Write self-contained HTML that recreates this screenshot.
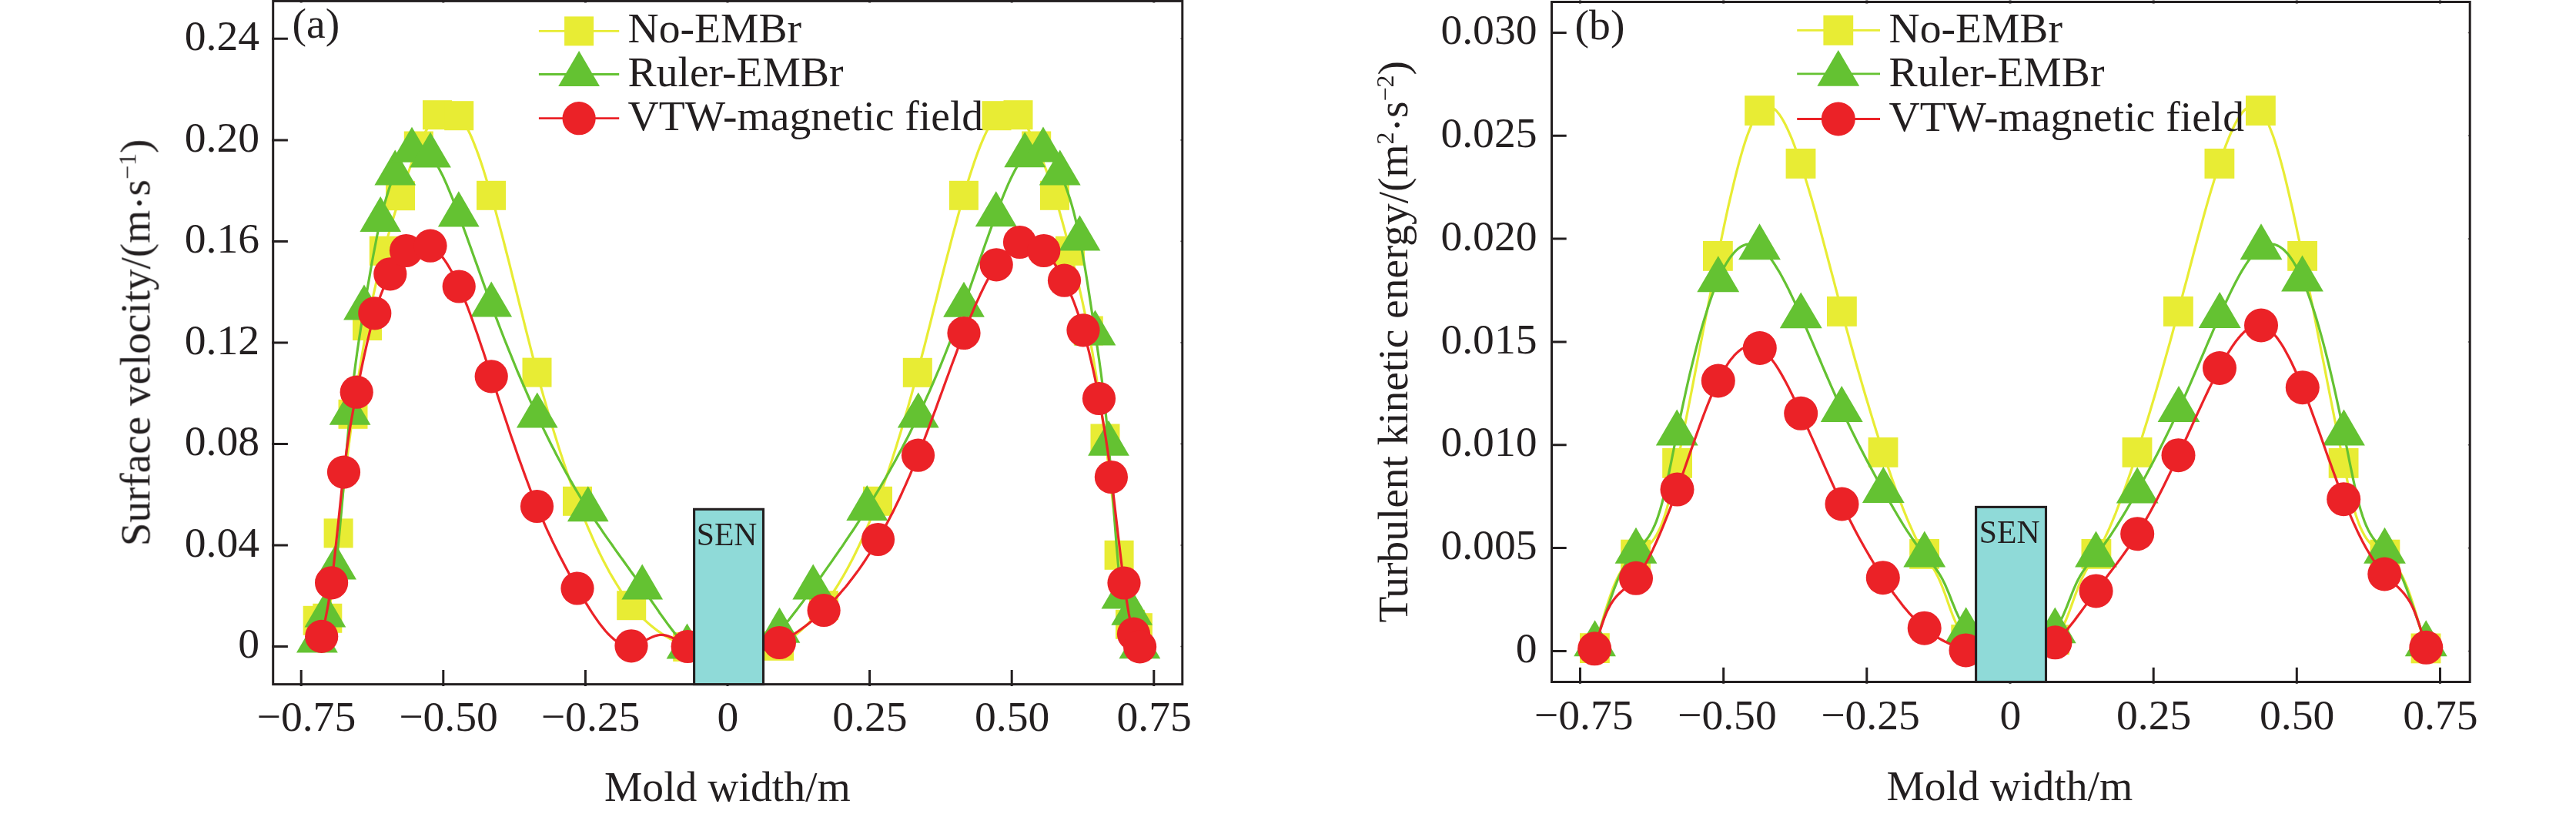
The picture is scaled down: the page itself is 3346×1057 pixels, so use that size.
<!DOCTYPE html>
<html lang="en"><head><meta charset="utf-8"><title>Surface velocity and turbulent kinetic energy</title>
<style>
html,body{margin:0;padding:0;background:#fff;}
body{width:3346px;height:1057px;overflow:hidden;font-family:"Liberation Serif",serif;}
svg{display:block;}
</style></head>
<body>
<svg width="3346" height="1057" viewBox="0 0 3346 1057" font-family="'Liberation Serif', serif" fill="#231f20">
<defs><filter id="nf" x="0" y="0" width="100%" height="100%" filterUnits="userSpaceOnUse" color-interpolation-filters="sRGB"><feOffset dx="0" dy="0"/></filter></defs>
<rect width="3346" height="1057" fill="#fff"/>
<g filter="url(#nf)">
<g id="chartA">
<path d="M412.7 805.8 L414.8 809.0 L416.9 811.6 L419.0 812.9 L421.1 812.3 L423.2 809.1 L425.3 802.8 L427.7 791.3 L430.1 775.8 L432.5 757.2 L434.8 736.5 L437.2 714.6 L439.6 692.4 L442.0 670.9 L444.3 650.0 L446.7 629.8 L449.1 610.1 L451.4 591.1 L453.8 572.7 L456.1 554.9 L458.5 537.8 L460.8 521.5 L463.1 505.8 L465.4 490.7 L467.8 476.1 L470.1 462.1 L472.4 448.5 L474.7 435.5 L477.0 423.0 L479.4 410.4 L481.8 398.4 L484.2 386.8 L486.7 375.6 L489.1 364.9 L491.5 354.6 L493.9 344.6 L496.3 335.0 L498.8 325.8 L501.1 317.0 L503.5 308.4 L505.8 300.1 L508.2 292.0 L510.6 284.2 L512.9 276.5 L515.3 268.9 L517.6 261.5 L520.0 254.2 L522.6 246.3 L525.3 238.4 L527.9 230.7 L530.6 223.3 L533.2 216.0 L535.8 209.0 L538.5 202.2 L541.1 195.7 L543.8 189.5 L546.2 184.1 L548.6 179.0 L551.0 174.1 L553.5 169.6 L555.9 165.3 L558.3 161.4 L560.7 157.9 L563.1 154.6 L565.6 151.8 L568.0 149.2 L570.6 147.0 L573.1 145.2 L575.7 143.8 L578.3 142.9 L580.8 142.5 L583.4 142.5 L586.0 143.0 L588.5 144.1 L591.1 145.6 L593.7 147.7 L596.2 150.2 L599.0 153.7 L601.8 157.7 L604.6 162.3 L607.4 167.5 L610.2 173.2 L613.0 179.5 L615.7 186.2 L618.5 193.3 L621.3 200.9 L624.1 208.9 L626.9 217.2 L629.6 225.9 L632.4 234.9 L635.2 244.2 L638.0 253.8 L640.8 263.7 L643.7 273.9 L646.5 284.3 L649.3 294.9 L652.2 305.6 L655.0 316.5 L657.8 327.5 L660.7 338.6 L663.5 349.8 L666.3 361.1 L669.2 372.4 L672.0 383.7 L674.8 395.0 L677.7 406.4 L680.5 417.7 L683.3 428.9 L686.2 440.1 L689.0 451.1 L691.8 462.1 L694.7 472.9 L697.5 483.6 L700.3 493.9 L703.0 503.9 L705.8 513.9 L708.6 523.6 L711.3 533.2 L714.1 542.7 L716.8 551.9 L719.6 561.1 L722.4 570.0 L725.1 578.8 L727.9 587.4 L730.7 595.9 L733.4 604.2 L736.2 612.4 L738.9 620.4 L741.7 628.2 L744.5 635.9 L747.2 643.4 L750.0 650.8 L752.8 658.1 L755.6 665.2 L758.4 672.2 L761.2 679.0 L764.0 685.7 L766.9 692.2 L769.7 698.6 L772.5 704.8 L775.3 710.8 L778.1 716.7 L780.9 722.4 L783.7 727.9 L786.5 733.3 L789.3 738.6 L792.1 743.7 L795.0 748.6 L797.8 753.4 L800.6 758.0 L803.4 762.5 L806.2 766.9 L809.0 771.0 L811.8 775.1 L814.6 778.9 L817.4 782.7 L820.2 786.2 L823.1 789.7 L825.9 793.0 L828.7 796.1 L831.5 799.1 L834.3 802.0 L837.1 804.8 L839.9 807.4 L842.7 809.9 L845.5 812.3 L848.3 814.6 L851.1 816.8 L853.9 818.9 L856.8 820.9 L859.6 822.8 L862.4 824.6 L865.2 826.4 L868.0 828.0 L870.8 829.6 L873.6 831.1 L876.4 832.5 L879.2 833.9 L882.0 835.2 L884.8 836.5 L887.6 837.7 L890.4 838.9 L893.2 840.0 L896.1 841.1 L899.0 842.2 L901.9 843.2 L904.8 844.2 L907.7 845.2 L910.6 846.1 L913.5 847.0 L916.4 847.8 L919.3 848.5 L922.2 849.3 L925.1 849.9 L928.0 850.5 L930.9 851.1 L933.8 851.6 L936.7 852.0 L939.6 852.4 L942.5 852.7 L945.4 852.9 L948.3 853.1 L951.2 853.3 L954.1 853.3 L957.0 853.3 L959.9 853.2 L962.8 853.1 L965.7 852.9 L968.6 852.6 L971.5 852.2 L974.3 851.8 L977.2 851.3 L980.1 850.7 L983.0 850.0 L985.9 849.3 L988.8 848.5 L991.7 847.6 L994.6 846.6 L997.5 845.5 L1000.4 844.3 L1003.3 843.1 L1006.2 841.7 L1009.1 840.3 L1012.0 838.8 L1014.8 837.2 L1017.5 835.6 L1020.3 833.9 L1023.0 832.1 L1025.8 830.2 L1028.6 828.2 L1031.3 826.1 L1034.1 823.9 L1036.9 821.6 L1039.6 819.3 L1042.4 816.8 L1045.1 814.2 L1047.9 811.5 L1050.7 808.8 L1053.4 805.9 L1056.2 802.9 L1059.0 799.8 L1061.7 796.6 L1064.5 793.2 L1067.2 789.8 L1070.0 786.2 L1072.8 782.5 L1075.6 778.7 L1078.4 774.7 L1081.2 770.6 L1084.0 766.4 L1086.8 762.1 L1089.6 757.6 L1092.4 752.9 L1095.2 748.2 L1098.0 743.3 L1100.8 738.2 L1103.6 733.0 L1106.4 727.7 L1109.2 722.2 L1112.0 716.5 L1114.8 710.7 L1117.6 704.7 L1120.4 698.5 L1123.2 692.2 L1126.0 685.8 L1128.8 679.1 L1131.6 672.3 L1134.4 665.3 L1137.2 658.1 L1140.0 650.8 L1142.7 643.4 L1145.4 635.9 L1148.2 628.2 L1150.9 620.4 L1153.6 612.4 L1156.3 604.2 L1159.1 595.8 L1161.8 587.3 L1164.5 578.7 L1167.2 569.9 L1170.0 560.9 L1172.7 551.8 L1175.4 542.5 L1178.1 533.1 L1180.9 523.5 L1183.6 513.8 L1186.3 503.9 L1189.0 493.9 L1191.8 483.8 L1194.5 473.4 L1197.2 463.0 L1200.0 452.4 L1202.7 441.8 L1205.4 431.1 L1208.2 420.3 L1210.9 409.5 L1213.6 398.7 L1216.4 387.8 L1219.1 377.0 L1221.8 366.2 L1224.6 355.4 L1227.3 344.7 L1230.0 334.1 L1232.8 323.6 L1235.5 313.1 L1238.2 302.8 L1241.0 292.7 L1243.7 282.7 L1246.4 272.8 L1249.2 263.2 L1251.9 253.8 L1254.6 244.8 L1257.2 236.0 L1259.9 227.6 L1262.6 219.3 L1265.2 211.4 L1267.9 203.8 L1270.5 196.6 L1273.2 189.7 L1275.9 183.2 L1278.5 177.1 L1281.2 171.4 L1283.8 166.2 L1286.5 161.5 L1289.2 157.2 L1291.8 153.5 L1294.5 150.2 L1297.0 147.7 L1299.6 145.7 L1302.1 144.1 L1304.7 143.1 L1307.2 142.5 L1309.8 142.4 L1312.3 142.8 L1314.9 143.7 L1317.4 145.1 L1320.0 146.9 L1322.5 149.2 L1325.1 152.1 L1327.8 155.5 L1330.4 159.2 L1333.1 163.4 L1335.7 168.0 L1338.3 172.9 L1341.0 178.2 L1343.6 183.7 L1346.2 189.5 L1348.9 195.5 L1351.5 201.8 L1354.2 208.4 L1356.8 215.2 L1359.4 222.3 L1362.1 229.7 L1364.7 237.4 L1367.4 245.4 L1370.0 253.8 L1372.5 262.0 L1375.0 270.5 L1377.5 279.2 L1380.0 288.2 L1382.5 297.3 L1385.0 306.7 L1387.5 316.2 L1390.0 325.8 L1392.6 336.0 L1395.3 346.4 L1397.9 357.0 L1400.6 368.0 L1403.2 379.3 L1405.8 391.0 L1408.5 403.3 L1411.1 416.1 L1413.8 429.5 L1416.2 442.4 L1418.6 455.9 L1421.0 470.1 L1423.4 484.9 L1425.8 500.4 L1428.2 516.5 L1430.7 533.4 L1433.1 551.1 L1435.5 569.5 L1437.8 587.4 L1440.0 605.9 L1442.3 624.8 L1444.5 644.0 L1446.8 663.3 L1449.1 682.7 L1451.3 701.9 L1453.6 720.8 L1456.0 740.4 L1458.4 758.9 L1460.8 775.8 L1463.2 790.5 L1465.6 802.3 L1468.0 810.8 L1470.0 814.9 L1472.0 816.9 L1473.9 817.2 L1475.9 816.5 L1477.9 815.2" fill="none" stroke="#e8ec34" stroke-width="3.2" stroke-linejoin="round"/>
<g fill="#e8ec34"><rect x="393.7" y="786.8" width="38.0" height="38.0"/><rect x="406.3" y="783.8" width="38.0" height="38.0"/><rect x="420.6" y="673.4" width="38.0" height="38.0"/><rect x="439.5" y="518.8" width="38.0" height="38.0"/><rect x="458.0" y="404.0" width="38.0" height="38.0"/><rect x="479.8" y="306.8" width="38.0" height="38.0"/><rect x="501.0" y="235.2" width="38.0" height="38.0"/><rect x="524.8" y="170.5" width="38.0" height="38.0"/><rect x="549.0" y="130.2" width="38.0" height="38.0"/><rect x="577.2" y="131.2" width="38.0" height="38.0"/><rect x="619.0" y="234.8" width="38.0" height="38.0"/><rect x="678.5" y="464.6" width="38.0" height="38.0"/><rect x="731.0" y="631.8" width="38.0" height="38.0"/><rect x="801.2" y="767.2" width="38.0" height="38.0"/><rect x="874.2" y="821.0" width="38.0" height="38.0"/><rect x="993.0" y="819.8" width="38.0" height="38.0"/><rect x="1051.0" y="767.2" width="38.0" height="38.0"/><rect x="1121.0" y="631.8" width="38.0" height="38.0"/><rect x="1172.8" y="464.8" width="38.0" height="38.0"/><rect x="1232.9" y="234.8" width="38.0" height="38.0"/><rect x="1275.5" y="131.2" width="38.0" height="38.0"/><rect x="1303.5" y="130.2" width="38.0" height="38.0"/><rect x="1327.2" y="170.5" width="38.0" height="38.0"/><rect x="1351.0" y="234.8" width="38.0" height="38.0"/><rect x="1371.0" y="306.8" width="38.0" height="38.0"/><rect x="1394.8" y="410.5" width="38.0" height="38.0"/><rect x="1416.5" y="550.5" width="38.0" height="38.0"/><rect x="1434.6" y="701.8" width="38.0" height="38.0"/><rect x="1449.0" y="791.8" width="38.0" height="38.0"/><rect x="1458.9" y="796.2" width="38.0" height="38.0"/></g>
<path d="M411.9 832.0 L414.0 825.3 L416.1 818.5 L418.2 811.9 L420.3 805.3 L422.4 798.9 L424.7 792.0 L427.0 784.6 L429.2 776.0 L431.5 765.7 L433.8 752.9 L436.1 736.9 L438.4 717.1 L440.7 694.2 L443.0 669.0 L445.4 642.2 L447.7 614.8 L450.0 587.4 L452.3 560.9 L454.6 536.1 L456.9 513.7 L459.2 493.4 L461.5 475.0 L463.8 458.1 L466.1 442.4 L468.4 427.7 L470.7 413.6 L473.0 399.9 L475.4 385.9 L477.7 372.0 L480.1 358.4 L482.4 345.0 L484.8 332.0 L487.2 319.5 L489.5 307.5 L491.9 296.1 L494.2 285.5 L496.6 275.6 L499.0 266.4 L501.4 258.0 L503.8 250.2 L506.1 243.0 L508.5 236.5 L510.9 230.5 L513.2 225.0 L515.7 219.9 L518.1 215.2 L520.5 211.1 L522.9 207.3 L525.3 204.0 L527.8 201.2 L530.2 198.8 L532.6 196.8 L535.0 195.2 L537.4 194.0 L539.8 193.3 L542.2 192.9 L544.6 193.0 L547.0 193.4 L549.4 194.3 L551.8 195.6 L554.2 197.3 L556.6 199.4 L559.0 201.9 L561.6 205.1 L564.2 208.8 L566.9 213.0 L569.5 217.5 L572.1 222.4 L574.8 227.7 L577.4 233.3 L580.0 239.2 L582.6 245.3 L585.2 251.6 L587.9 258.2 L590.5 264.9 L593.1 271.8 L595.8 278.8 L598.4 285.9 L601.1 293.1 L603.7 300.3 L606.4 307.6 L609.0 315.0 L611.7 322.4 L614.3 329.8 L617.0 337.2 L619.7 344.6 L622.3 352.1 L625.0 359.5 L627.6 366.9 L630.3 374.2 L632.9 381.5 L635.6 388.8 L638.2 396.0 L641.1 403.6 L643.9 411.1 L646.8 418.6 L649.6 426.0 L652.4 433.3 L655.2 440.5 L658.1 447.7 L660.9 454.7 L663.8 461.7 L666.6 468.7 L669.4 475.5 L672.2 482.3 L675.1 489.0 L677.9 495.6 L680.8 502.1 L683.6 508.6 L686.4 515.0 L689.2 521.3 L692.1 527.5 L694.9 533.7 L697.8 539.8 L700.5 545.6 L703.2 551.4 L706.0 557.1 L708.8 562.7 L711.5 568.3 L714.2 573.8 L717.0 579.2 L719.8 584.6 L722.5 589.9 L725.2 595.1 L728.0 600.3 L730.8 605.4 L733.5 610.4 L736.2 615.4 L739.0 620.3 L741.8 625.1 L744.5 629.9 L747.2 634.6 L750.0 639.3 L752.8 643.9 L755.5 648.4 L758.2 652.8 L761.0 657.3 L763.8 661.6 L766.6 666.0 L769.4 670.3 L772.2 674.6 L775.0 678.8 L777.9 683.0 L780.7 687.2 L783.5 691.3 L786.3 695.3 L789.1 699.4 L792.0 703.4 L794.8 707.3 L797.6 711.3 L800.4 715.3 L803.2 719.2 L806.0 723.1 L808.9 727.0 L811.7 731.0 L814.5 734.9 L817.3 738.8 L820.1 742.8 L823.0 746.7 L825.8 750.7 L828.6 754.7 L831.4 758.7 L834.2 762.8 L837.0 766.8 L839.8 770.9 L842.6 774.9 L845.3 779.0 L848.1 783.1 L850.9 787.1 L853.7 791.2 L856.4 795.2 L859.2 799.1 L862.0 803.0 L864.8 806.9 L867.5 810.6 L870.3 814.3 L873.1 817.9 L875.9 821.4 L878.6 824.8 L881.4 828.1 L884.2 831.2 L887.0 834.2 L889.7 837.1 L892.5 839.8 L895.4 842.4 L898.2 844.8 L901.1 847.1 L903.9 849.2 L906.8 851.1 L909.6 852.8 L912.5 854.4 L915.4 855.8 L918.2 857.1 L921.1 858.2 L923.9 859.1 L926.8 859.9 L929.6 860.5 L932.5 861.0 L935.4 861.3 L938.2 861.5 L941.1 861.5 L943.9 861.4 L946.8 861.1 L949.6 860.7 L952.5 860.1 L955.4 859.4 L958.2 858.6 L961.1 857.6 L963.9 856.5 L966.8 855.3 L969.6 853.9 L972.5 852.4 L975.4 850.8 L978.2 849.1 L981.1 847.2 L983.9 845.2 L986.8 843.1 L989.6 840.9 L992.5 838.5 L995.4 836.1 L998.2 833.5 L1001.1 830.9 L1003.9 828.1 L1006.8 825.2 L1009.6 822.2 L1012.5 819.1 L1015.2 816.0 L1018.0 812.9 L1020.7 809.7 L1023.4 806.4 L1026.2 803.0 L1028.9 799.6 L1031.6 796.1 L1034.4 792.5 L1037.1 788.9 L1039.8 785.3 L1042.6 781.6 L1045.3 777.9 L1048.0 774.1 L1050.8 770.4 L1053.5 766.6 L1056.2 762.8 L1059.0 758.9 L1061.8 755.0 L1064.7 751.1 L1067.5 747.2 L1070.2 743.3 L1073.0 739.3 L1075.8 735.4 L1078.7 731.4 L1081.5 727.4 L1084.2 723.4 L1087.0 719.4 L1089.8 715.3 L1092.7 711.3 L1095.5 707.2 L1098.2 703.0 L1101.0 698.9 L1103.8 694.7 L1106.7 690.5 L1109.5 686.3 L1112.2 682.1 L1115.0 677.8 L1117.8 673.5 L1120.7 669.1 L1123.5 664.7 L1126.2 660.3 L1129.0 655.9 L1131.8 651.4 L1134.6 646.9 L1137.3 642.4 L1140.1 637.8 L1142.9 633.2 L1145.6 628.5 L1148.4 623.8 L1151.2 619.0 L1154.0 614.2 L1156.7 609.3 L1159.5 604.3 L1162.3 599.3 L1165.0 594.2 L1167.8 589.1 L1170.6 583.9 L1173.4 578.6 L1176.1 573.3 L1178.9 567.9 L1181.7 562.4 L1184.4 556.9 L1187.2 551.3 L1190.0 545.6 L1192.8 539.8 L1195.6 533.8 L1198.4 527.8 L1201.2 521.6 L1204.0 515.4 L1206.9 509.1 L1209.7 502.7 L1212.5 496.2 L1215.3 489.7 L1218.1 483.0 L1221.0 476.3 L1223.8 469.4 L1226.6 462.5 L1229.4 455.5 L1232.2 448.4 L1235.1 441.2 L1237.9 433.9 L1240.7 426.5 L1243.5 419.1 L1246.4 411.5 L1249.2 403.8 L1252.0 396.1 L1254.8 388.4 L1257.6 380.6 L1260.3 372.7 L1263.1 364.8 L1265.9 356.8 L1268.7 348.8 L1271.5 340.9 L1274.3 332.9 L1277.0 324.9 L1279.8 317.0 L1282.6 309.2 L1285.4 301.4 L1288.2 293.7 L1291.0 286.1 L1293.8 278.6 L1296.4 271.5 L1299.1 264.6 L1301.8 257.8 L1304.5 251.2 L1307.1 244.8 L1309.8 238.7 L1312.5 232.8 L1315.2 227.3 L1317.9 222.1 L1320.5 217.2 L1323.2 212.7 L1325.9 208.5 L1328.6 204.8 L1331.2 201.6 L1333.9 198.9 L1336.5 196.6 L1339.2 194.8 L1341.8 193.5 L1344.4 192.7 L1347.1 192.5 L1349.7 192.7 L1352.4 193.5 L1355.0 194.8 L1357.4 196.5 L1359.8 198.6 L1362.2 201.2 L1364.7 204.2 L1367.1 207.5 L1369.5 211.3 L1371.9 215.5 L1374.3 220.0 L1376.8 224.8 L1379.3 230.3 L1381.9 236.3 L1384.5 242.9 L1387.0 250.0 L1389.6 257.8 L1392.2 266.4 L1394.8 275.8 L1397.3 286.2 L1399.9 297.6 L1402.5 310.0 L1405.0 323.2 L1407.5 337.2 L1410.0 352.1 L1412.5 367.6 L1415.0 383.6 L1417.5 399.9 L1420.0 416.3 L1422.5 432.8 L1425.0 449.2 L1427.5 466.1 L1430.0 483.9 L1432.5 503.2 L1435.0 524.7 L1437.5 548.8 L1440.0 576.1 L1442.5 606.7 L1445.0 639.3 L1447.5 672.3 L1449.9 704.0 L1452.4 732.8 L1454.9 756.9 L1457.4 774.8 L1459.5 784.3 L1461.7 789.3 L1463.8 791.6 L1465.9 792.5 L1468.1 793.5 L1470.2 796.2 L1472.2 801.4 L1474.3 809.0 L1476.3 818.2 L1478.4 828.7 L1480.4 839.7" fill="none" stroke="#64c232" stroke-width="3.2" stroke-linejoin="round"/>
<g fill="#64c232"><path d="M411.9 801.6L438.8 847.6L385.0 847.6z"/><path d="M422.4 768.5L449.3 814.5L395.5 814.5z"/><path d="M436.1 706.5L463.0 752.5L409.2 752.5z"/><path d="M454.6 505.7L481.5 551.7L427.7 551.7z"/><path d="M473.0 369.5L499.9 415.5L446.1 415.5z"/><path d="M494.2 255.1L521.1 301.1L467.4 301.1z"/><path d="M513.2 194.6L540.1 240.6L486.4 240.6z"/><path d="M535.0 164.8L561.9 210.8L508.1 210.8z"/><path d="M559.0 171.5L585.9 217.5L532.1 217.5z"/><path d="M595.8 248.3L622.6 294.4L568.9 294.4z"/><path d="M638.2 365.6L665.1 411.6L611.4 411.6z"/><path d="M697.8 509.4L724.6 555.4L670.9 555.4z"/><path d="M763.8 631.2L790.6 677.2L736.9 677.2z"/><path d="M834.2 732.4L861.1 778.4L807.4 778.4z"/><path d="M892.5 809.4L919.4 855.4L865.6 855.4z"/><path d="M1012.5 788.7L1039.4 834.7L985.6 834.7z"/><path d="M1056.2 732.4L1083.2 778.4L1029.3 778.4z"/><path d="M1126.2 629.9L1153.2 675.9L1099.3 675.9z"/><path d="M1192.8 509.4L1219.7 555.4L1165.8 555.4z"/><path d="M1252.0 365.7L1278.9 411.7L1225.1 411.7z"/><path d="M1293.8 248.2L1320.7 294.2L1266.8 294.2z"/><path d="M1331.2 171.2L1358.2 217.2L1304.3 217.2z"/><path d="M1355.0 164.4L1381.9 210.4L1328.1 210.4z"/><path d="M1376.8 194.4L1403.7 240.4L1349.8 240.4z"/><path d="M1402.5 279.6L1429.4 325.6L1375.6 325.6z"/><path d="M1422.5 402.4L1449.4 448.4L1395.6 448.4z"/><path d="M1440.0 545.7L1466.9 591.7L1413.1 591.7z"/><path d="M1457.4 744.4L1484.3 790.4L1430.5 790.4z"/><path d="M1470.2 765.8L1497.1 811.8L1443.3 811.8z"/><path d="M1480.4 809.3L1507.3 855.3L1453.5 855.3z"/></g>
<path d="M417.7 826.4 L419.9 817.0 L422.0 807.2 L424.1 796.6 L426.3 784.9 L428.5 771.8 L430.6 756.8 L432.9 738.7 L435.1 718.7 L437.4 697.6 L439.7 675.8 L442.0 654.0 L444.2 632.9 L446.5 613.1 L448.9 594.1 L451.3 577.0 L453.7 561.5 L456.1 547.2 L458.5 533.9 L460.9 521.4 L463.2 509.2 L465.9 496.3 L468.5 483.6 L471.1 471.2 L473.7 459.2 L476.3 447.6 L478.9 436.5 L481.5 425.9 L484.1 416.0 L486.8 406.8 L489.2 398.6 L491.8 391.0 L494.2 384.0 L496.8 377.5 L499.2 371.5 L501.8 365.9 L504.2 360.7 L506.8 355.8 L509.3 350.9 L511.9 346.4 L514.5 342.1 L517.1 338.2 L519.7 334.5 L522.3 331.2 L524.9 328.2 L527.5 325.5 L530.1 323.1 L532.8 321.1 L535.4 319.4 L538.0 318.0 L540.6 317.0 L543.2 316.3 L545.9 316.0 L548.5 316.0 L551.1 316.3 L553.8 316.9 L556.4 317.9 L559.0 319.2 L561.7 320.9 L564.3 322.9 L567.0 325.3 L569.6 328.0 L572.3 331.0 L575.0 334.3 L577.6 337.9 L580.3 341.9 L582.9 346.2 L585.6 350.7 L588.3 355.6 L590.9 360.8 L593.6 366.2 L596.2 372.0 L598.9 378.0 L601.5 384.2 L604.1 390.6 L606.8 397.3 L609.4 404.2 L612.0 411.3 L614.6 418.5 L617.2 426.0 L619.9 433.5 L622.5 441.2 L625.1 449.0 L627.8 456.8 L630.4 464.7 L633.0 472.7 L635.6 480.7 L638.2 488.8 L641.1 497.4 L643.9 506.0 L646.7 514.6 L649.5 523.2 L652.4 531.7 L655.2 540.2 L658.0 548.6 L660.8 557.0 L663.6 565.4 L666.5 573.6 L669.3 581.8 L672.1 589.9 L674.9 597.9 L677.8 605.8 L680.6 613.6 L683.4 621.2 L686.2 628.8 L689.0 636.2 L691.9 643.4 L694.7 650.5 L697.5 657.5 L700.3 664.2 L703.0 670.7 L705.8 677.0 L708.6 683.3 L711.3 689.3 L714.1 695.3 L716.8 701.2 L719.6 706.9 L722.4 712.5 L725.1 718.0 L727.9 723.4 L730.7 728.8 L733.4 734.0 L736.2 739.2 L738.9 744.3 L741.7 749.3 L744.5 754.2 L747.2 759.1 L750.0 764.0 L752.8 768.9 L755.6 773.7 L758.4 778.4 L761.2 783.1 L764.0 787.7 L766.8 792.1 L769.6 796.5 L772.4 800.7 L775.2 804.7 L778.0 808.6 L780.8 812.3 L783.6 815.8 L786.4 819.2 L789.2 822.3 L792.0 825.2 L794.8 827.8 L797.6 830.2 L800.4 832.4 L803.2 834.2 L806.0 835.8 L808.8 837.0 L811.6 838.0 L814.4 838.6 L817.2 838.8 L820.0 838.8 L822.6 838.3 L825.3 837.6 L827.9 836.7 L830.6 835.6 L833.2 834.3 L835.9 833.0 L838.5 831.6 L841.1 830.2 L843.8 828.8 L846.4 827.6 L849.1 826.5 L851.7 825.6 L854.4 824.9 L857.0 824.5 L859.6 824.4 L862.2 824.6 L864.8 825.1 L867.4 825.8 L869.9 826.7 L872.5 827.8 L875.1 829.1 L877.7 830.4 L880.3 831.9 L882.9 833.4 L885.5 834.9 L888.1 836.5 L890.7 838.0 L893.2 839.5 L896.2 841.1 L899.1 842.5 L902.0 843.9 L904.9 845.2 L907.8 846.4 L910.7 847.4 L913.6 848.4 L916.5 849.3 L919.4 850.1 L922.3 850.8 L925.2 851.5 L928.1 852.0 L931.0 852.4 L933.9 852.8 L936.8 853.1 L939.7 853.3 L942.7 853.4 L945.6 853.4 L948.5 853.4 L951.4 853.2 L954.3 853.0 L957.2 852.8 L960.1 852.4 L963.0 852.0 L965.9 851.5 L968.8 850.9 L971.7 850.2 L974.6 849.5 L977.5 848.8 L980.4 847.9 L983.3 847.0 L986.2 846.0 L989.2 845.0 L992.1 843.9 L995.0 842.7 L997.9 841.5 L1000.8 840.2 L1003.7 838.9 L1006.6 837.5 L1009.5 836.0 L1012.4 834.5 L1015.1 833.0 L1017.9 831.5 L1020.6 829.9 L1023.4 828.3 L1026.1 826.7 L1028.9 824.9 L1031.6 823.2 L1034.4 821.3 L1037.1 819.5 L1039.9 817.5 L1042.6 815.5 L1045.4 813.5 L1048.1 811.4 L1050.9 809.3 L1053.6 807.0 L1056.4 804.8 L1059.1 802.4 L1061.9 800.0 L1064.6 797.6 L1067.4 795.1 L1070.1 792.5 L1072.9 789.8 L1075.7 787.0 L1078.5 784.2 L1081.4 781.3 L1084.2 778.3 L1087.0 775.2 L1089.8 772.1 L1092.6 768.8 L1095.4 765.5 L1098.3 762.2 L1101.1 758.7 L1103.9 755.1 L1106.7 751.5 L1109.5 747.8 L1112.3 744.0 L1115.2 740.1 L1118.0 736.1 L1120.8 732.0 L1123.6 727.8 L1126.4 723.5 L1129.2 719.1 L1132.1 714.6 L1134.9 710.0 L1137.7 705.3 L1140.5 700.5 L1143.2 695.7 L1146.0 690.8 L1148.7 685.9 L1151.4 680.8 L1154.2 675.6 L1156.9 670.3 L1159.7 664.9 L1162.4 659.4 L1165.1 653.7 L1167.9 648.0 L1170.6 642.2 L1173.3 636.2 L1176.1 630.1 L1178.8 623.9 L1181.6 617.6 L1184.3 611.2 L1187.0 604.7 L1189.8 598.0 L1192.5 591.2 L1195.3 584.1 L1198.2 576.9 L1201.0 569.5 L1203.8 562.1 L1206.7 554.5 L1209.5 546.9 L1212.3 539.3 L1215.2 531.6 L1218.0 523.8 L1220.8 516.1 L1223.7 508.3 L1226.5 500.5 L1229.3 492.8 L1232.2 485.0 L1235.0 477.3 L1237.8 469.7 L1240.7 462.1 L1243.5 454.5 L1246.3 447.1 L1249.2 439.7 L1252.0 432.5 L1254.6 425.9 L1257.3 419.3 L1259.9 412.9 L1262.6 406.6 L1265.2 400.4 L1267.8 394.4 L1270.5 388.6 L1273.1 382.8 L1275.8 377.3 L1278.4 371.9 L1281.0 366.7 L1283.7 361.7 L1286.3 356.9 L1289.0 352.3 L1291.6 347.9 L1294.2 343.8 L1296.8 340.0 L1299.3 336.4 L1301.8 333.1 L1304.3 330.0 L1306.9 327.1 L1309.4 324.5 L1311.9 322.2 L1314.4 320.1 L1316.9 318.3 L1319.5 316.7 L1322.0 315.5 L1324.5 314.5 L1327.1 313.8 L1329.7 313.5 L1332.3 313.4 L1334.9 313.6 L1337.5 314.2 L1340.1 315.0 L1342.7 316.1 L1345.3 317.5 L1347.9 319.1 L1350.5 321.0 L1353.1 323.1 L1355.8 325.5 L1358.4 328.2 L1361.1 331.1 L1363.8 334.3 L1366.5 337.8 L1369.1 341.5 L1371.8 345.5 L1374.5 349.7 L1377.2 354.3 L1379.8 359.1 L1382.5 364.2 L1385.0 369.2 L1387.4 374.4 L1389.8 380.0 L1392.3 385.8 L1394.8 392.0 L1397.2 398.5 L1399.7 405.5 L1402.1 412.8 L1404.5 420.5 L1407.0 428.8 L1409.6 437.8 L1412.1 447.5 L1414.7 457.6 L1417.2 468.4 L1419.8 479.7 L1422.4 491.7 L1424.9 504.3 L1427.5 517.5 L1429.8 529.8 L1432.0 542.7 L1434.3 556.3 L1436.6 570.7 L1438.9 586.0 L1441.1 602.2 L1443.4 619.5 L1445.8 638.7 L1448.1 658.7 L1450.5 679.2 L1452.9 699.6 L1455.3 719.7 L1457.6 739.0 L1460.0 757.0 L1462.1 771.6 L1464.2 784.8 L1466.2 796.7 L1468.3 807.1 L1470.4 815.9 L1472.5 823.2 L1474.5 828.8 L1476.5 833.1 L1478.6 836.7 L1480.6 839.9" fill="none" stroke="#eb2227" stroke-width="3.2" stroke-linejoin="round"/>
<g fill="#eb2227"><circle cx="417.7" cy="826.4" r="21.6"/><circle cx="430.6" cy="756.8" r="21.6"/><circle cx="446.5" cy="613.1" r="21.6"/><circle cx="463.2" cy="509.2" r="21.6"/><circle cx="486.8" cy="406.8" r="21.6"/><circle cx="506.8" cy="355.8" r="21.6"/><circle cx="527.5" cy="325.5" r="21.6"/><circle cx="559.0" cy="319.2" r="21.6"/><circle cx="596.2" cy="372.0" r="21.6"/><circle cx="638.2" cy="488.8" r="21.6"/><circle cx="697.5" cy="657.5" r="21.6"/><circle cx="750.0" cy="764.0" r="21.6"/><circle cx="820.0" cy="838.8" r="21.6"/><circle cx="893.2" cy="839.5" r="21.6"/><circle cx="1012.4" cy="834.5" r="21.6"/><circle cx="1070.1" cy="792.5" r="21.6"/><circle cx="1140.5" cy="700.5" r="21.6"/><circle cx="1192.5" cy="591.2" r="21.6"/><circle cx="1252.0" cy="432.5" r="21.6"/><circle cx="1294.2" cy="343.8" r="21.6"/><circle cx="1324.5" cy="314.5" r="21.6"/><circle cx="1355.8" cy="325.5" r="21.6"/><circle cx="1382.5" cy="364.2" r="21.6"/><circle cx="1407.0" cy="428.8" r="21.6"/><circle cx="1427.5" cy="517.5" r="21.6"/><circle cx="1443.4" cy="619.5" r="21.6"/><circle cx="1460.0" cy="757.0" r="21.6"/><circle cx="1472.5" cy="823.2" r="21.6"/><circle cx="1480.6" cy="839.9" r="21.6"/></g>
<rect x="354.7" y="1.4" width="1181.1" height="887.2" fill="none" stroke="#231f20" stroke-width="3.0"/>
<path d="M391.2 890.9V869.9M391.2 -0.7v4.2M575.8 890.9V869.9M575.8 -0.7v4.2M760.4 890.9V869.9M760.4 -0.7v4.2M945.0 890.9V869.9M945.0 -0.7v4.2M1129.6 890.9V869.9M1129.6 -0.7v4.2M1314.2 890.9V869.9M1314.2 -0.7v4.2M1498.8 890.9V869.9M1498.8 -0.7v4.2M353.2 839.5H373.9M353.2 708.0H373.9M353.2 576.4H373.9M353.2 444.9H373.9M353.2 313.4H373.9M353.2 181.9H373.9M353.2 50.3H373.9" stroke="#231f20" stroke-width="3.0" fill="none"/>
<path d="M1533.4 839.5h2M1533.4 708.0h2M1533.4 576.4h2M1533.4 444.9h2M1533.4 313.4h2M1533.4 181.9h2M1533.4 50.3h2" stroke="#231f20" stroke-width="1.6" fill="none" opacity=".7"/>
<rect x="901.6" y="661.3" width="89.9" height="227.3" fill="#8fdad8" stroke="#231f20" stroke-width="3.1"/>
<text x="944.1" y="708.0" font-size="41.7" text-anchor="middle" >SEN</text>
<text x="462.2" y="948.6" font-size="55.6" text-anchor="end" >−0.75</text>
<text x="646.8" y="948.6" font-size="55.6" text-anchor="end" >−0.50</text>
<text x="831.4" y="948.6" font-size="55.6" text-anchor="end" >−0.25</text>
<text x="945.4" y="948.6" font-size="55.6" text-anchor="middle" >0</text>
<text x="1130.0" y="948.6" font-size="55.6" text-anchor="middle" >0.25</text>
<text x="1314.6" y="948.6" font-size="55.6" text-anchor="middle" >0.50</text>
<text x="1499.2" y="948.6" font-size="55.6" text-anchor="middle" >0.75</text>
<text x="337.1" y="854.1" font-size="55.6" text-anchor="end" >0</text>
<text x="337.1" y="722.6" font-size="55.6" text-anchor="end" >0.04</text>
<text x="337.1" y="591.0" font-size="55.6" text-anchor="end" >0.08</text>
<text x="337.1" y="459.5" font-size="55.6" text-anchor="end" >0.12</text>
<text x="337.1" y="328.0" font-size="55.6" text-anchor="end" >0.16</text>
<text x="337.1" y="196.5" font-size="55.6" text-anchor="end" >0.20</text>
<text x="337.1" y="64.9" font-size="55.6" text-anchor="end" >0.24</text>
<text x="944.8" y="1040.2" font-size="55.6" text-anchor="middle" >Mold width/m</text>
<text transform="translate(194.3 709.3) rotate(-90)" font-size="55.15">Surface velocity/(m<tspan dy="4.6">·</tspan><tspan dy="-4.6">s</tspan><tspan dy="-18" font-size="32">−1</tspan><tspan dy="18">)</tspan></text>
<text x="379.5" y="49.4" font-size="55.6" text-anchor="start" >(a)</text>
<path d="M699.9 40.4H804.2" stroke="#e8ec34" stroke-width="2.8" fill="none"/>
<g fill="#e8ec34"><rect x="733.1" y="21.4" width="38.0" height="38.0"/></g>
<text x="815.6" y="55.3" font-size="55.6" text-anchor="start" >No-EMBr</text>
<path d="M699.9 96.5H804.2" stroke="#64c232" stroke-width="2.8" fill="none"/>
<g fill="#64c232"><path d="M752.1 66.1L779.0 112.1L725.2 112.1z"/></g>
<text x="815.6" y="112.2" font-size="55.6" text-anchor="start" >Ruler-EMBr</text>
<path d="M699.9 153.7H804.2" stroke="#eb2227" stroke-width="2.8" fill="none"/>
<g fill="#eb2227"><circle cx="752.1" cy="153.7" r="21.6"/></g>
<text x="815.6" y="169.2" font-size="55.6" text-anchor="start" >VTW-magnetic field</text>
</g>
<g id="chartB">
<path d="M2071.4 841.6 L2074.1 832.0 L2076.7 822.5 L2079.4 813.1 L2082.0 803.9 L2084.7 795.0 L2087.4 786.4 L2090.0 778.3 L2092.7 770.6 L2095.3 763.4 L2098.0 756.9 L2100.7 750.9 L2103.3 745.7 L2106.0 741.0 L2108.6 736.8 L2111.3 733.1 L2114.0 729.8 L2116.6 726.9 L2119.3 724.4 L2121.9 722.1 L2124.6 720.1 L2127.3 718.2 L2130.0 716.5 L2132.7 714.7 L2135.4 712.8 L2138.1 710.8 L2140.8 708.5 L2143.5 705.9 L2146.2 702.8 L2148.9 699.1 L2151.6 694.8 L2154.3 689.8 L2156.4 685.5 L2158.4 680.6 L2160.5 675.1 L2162.5 669.0 L2164.6 662.3 L2166.9 653.7 L2169.2 644.3 L2171.6 634.3 L2173.9 623.7 L2176.3 612.7 L2178.6 601.4 L2181.4 587.8 L2184.2 574.1 L2186.9 560.2 L2189.7 546.1 L2192.5 532.0 L2195.3 517.8 L2198.1 503.4 L2200.8 489.1 L2203.6 474.7 L2206.4 460.2 L2209.2 445.8 L2211.9 431.4 L2214.7 417.0 L2217.5 402.6 L2220.3 388.4 L2223.1 374.2 L2225.8 360.1 L2228.6 346.2 L2231.4 332.4 L2234.1 319.1 L2236.8 306.0 L2239.5 293.1 L2242.2 280.5 L2244.9 268.2 L2247.7 256.2 L2250.4 244.6 L2253.1 233.4 L2255.8 222.7 L2258.5 212.4 L2261.2 202.6 L2263.9 193.4 L2266.6 184.8 L2269.3 176.7 L2272.1 169.4 L2274.8 162.7 L2277.5 156.7 L2280.2 151.5 L2282.9 147.2 L2285.6 143.6 L2288.4 140.8 L2291.2 138.9 L2294.0 137.9 L2296.8 137.7 L2299.7 138.4 L2302.5 139.7 L2305.3 141.9 L2308.1 144.7 L2310.9 148.2 L2313.7 152.3 L2316.5 157.0 L2319.3 162.3 L2322.1 168.1 L2324.9 174.4 L2327.8 181.2 L2330.6 188.5 L2333.4 196.1 L2336.2 204.1 L2339.0 212.4 L2341.8 221.0 L2344.6 229.9 L2347.4 239.1 L2350.2 248.5 L2353.1 258.1 L2355.9 267.9 L2358.7 277.9 L2361.5 288.1 L2364.3 298.4 L2367.1 308.8 L2369.9 319.3 L2372.7 329.9 L2375.5 340.5 L2378.3 351.2 L2381.2 361.9 L2384.0 372.6 L2386.8 383.2 L2389.6 393.9 L2392.4 404.4 L2395.2 414.9 L2398.0 425.3 L2400.9 435.6 L2403.7 445.9 L2406.5 456.0 L2409.3 466.1 L2412.1 476.0 L2415.0 485.9 L2417.8 495.6 L2420.6 505.3 L2423.4 514.8 L2426.3 524.3 L2429.1 533.6 L2431.9 542.9 L2434.7 552.0 L2437.5 561.0 L2440.4 569.9 L2443.2 578.7 L2446.0 587.4 L2448.8 596.0 L2451.6 604.4 L2454.5 612.7 L2457.3 620.9 L2460.1 628.9 L2462.9 636.7 L2465.7 644.4 L2468.6 651.9 L2471.4 659.2 L2474.2 666.2 L2477.0 673.1 L2479.9 679.8 L2482.7 686.2 L2485.5 692.4 L2488.3 698.3 L2491.1 704.0 L2494.0 709.4 L2496.8 714.6 L2499.6 719.4 L2502.0 723.3 L2504.4 727.1 L2506.8 730.9 L2509.2 734.7 L2511.6 738.6 L2514.0 742.8 L2516.4 747.4 L2518.8 752.4 L2521.2 757.8 L2523.7 764.1 L2526.2 770.8 L2528.7 777.7 L2531.1 784.7 L2533.6 791.7 L2536.1 798.3 L2538.6 804.4 L2540.7 809.2 L2542.9 813.6 L2545.0 817.5 L2547.2 821.1 L2549.4 824.5 L2551.5 827.6 L2553.7 830.5 L2556.6 834.2 L2559.4 837.7 L2562.3 841.0 L2565.2 844.2 L2568.0 847.1 L2570.9 849.9 L2573.8 852.5 L2576.7 854.8 L2579.5 857.0 L2582.4 859.0 L2585.3 860.8 L2588.1 862.4 L2591.0 863.9 L2593.9 865.1 L2596.8 866.1 L2599.6 867.0 L2602.5 867.7 L2605.4 868.2 L2608.2 868.4 L2611.1 868.5 L2614.0 868.4 L2616.8 868.2 L2619.7 867.7 L2622.6 867.0 L2625.4 866.2 L2628.3 865.1 L2631.2 863.9 L2634.1 862.5 L2636.9 860.9 L2639.8 859.1 L2642.7 857.1 L2645.5 854.9 L2648.4 852.6 L2651.3 850.0 L2654.2 847.3 L2657.0 844.3 L2659.9 841.2 L2662.8 837.9 L2665.6 834.4 L2668.5 830.7 L2670.7 827.8 L2672.9 824.7 L2675.0 821.3 L2677.2 817.7 L2679.4 813.7 L2681.6 809.4 L2683.7 804.5 L2686.2 798.4 L2688.7 791.8 L2691.2 784.9 L2693.7 777.8 L2696.2 770.9 L2698.7 764.2 L2701.1 757.9 L2703.6 752.4 L2706.0 747.5 L2708.4 742.9 L2710.8 738.7 L2713.2 734.7 L2715.6 730.9 L2718.1 727.2 L2720.5 723.3 L2722.9 719.4 L2725.7 714.6 L2728.5 709.5 L2731.3 704.1 L2734.1 698.4 L2736.9 692.5 L2739.7 686.3 L2742.5 679.8 L2745.3 673.2 L2748.1 666.3 L2750.8 659.2 L2753.6 651.9 L2756.4 644.4 L2759.2 636.7 L2762.0 628.9 L2764.8 620.9 L2767.6 612.7 L2770.4 604.4 L2773.2 596.0 L2776.0 587.4 L2778.8 578.7 L2781.6 569.9 L2784.4 560.9 L2787.2 551.9 L2790.1 542.7 L2792.9 533.5 L2795.7 524.1 L2798.5 514.7 L2801.3 505.1 L2804.1 495.4 L2806.9 485.7 L2809.7 475.8 L2812.5 465.9 L2815.3 455.9 L2818.2 445.7 L2821.0 435.5 L2823.8 425.2 L2826.6 414.9 L2829.4 404.4 L2832.2 393.8 L2835.0 383.2 L2837.8 372.5 L2840.7 361.9 L2843.5 351.2 L2846.3 340.5 L2849.1 329.9 L2851.9 319.3 L2854.7 308.8 L2857.6 298.4 L2860.4 288.1 L2863.2 277.9 L2866.0 267.9 L2868.8 258.1 L2871.6 248.5 L2874.5 239.1 L2877.3 229.9 L2880.1 221.0 L2882.9 212.4 L2885.7 204.1 L2888.5 196.1 L2891.3 188.4 L2894.2 181.2 L2897.0 174.4 L2899.8 168.0 L2902.6 162.2 L2905.4 156.9 L2908.2 152.2 L2911.1 148.0 L2913.9 144.5 L2916.7 141.7 L2919.5 139.6 L2922.3 138.2 L2925.1 137.6 L2928.0 137.8 L2930.8 138.8 L2933.6 140.8 L2936.4 143.6 L2939.1 147.2 L2941.8 151.6 L2944.5 156.9 L2947.2 162.9 L2949.9 169.6 L2952.7 177.0 L2955.4 185.1 L2958.1 193.8 L2960.8 203.1 L2963.5 212.9 L2966.2 223.2 L2968.9 233.9 L2971.6 245.1 L2974.3 256.7 L2977.1 268.7 L2979.8 280.9 L2982.5 293.5 L2985.2 306.3 L2987.9 319.2 L2990.6 332.4 L2993.4 346.2 L2996.2 360.1 L2999.0 374.2 L3001.9 388.3 L3004.7 402.5 L3007.5 416.8 L3010.3 431.2 L3013.1 445.5 L3015.9 459.9 L3018.8 474.3 L3021.6 488.7 L3024.4 503.0 L3027.2 517.3 L3030.0 531.6 L3032.8 545.7 L3035.7 559.8 L3038.5 573.8 L3041.3 587.7 L3044.1 601.4 L3046.4 612.6 L3048.8 623.6 L3051.1 634.2 L3053.4 644.3 L3055.8 653.7 L3058.1 662.3 L3060.1 669.0 L3062.2 675.1 L3064.2 680.6 L3066.3 685.5 L3068.3 689.8 L3071.0 694.8 L3073.7 699.1 L3076.4 702.8 L3079.1 705.9 L3081.8 708.5 L3084.4 710.8 L3087.1 712.8 L3089.8 714.7 L3092.5 716.4 L3095.2 718.2 L3097.9 720.1 L3100.6 722.1 L3103.2 724.4 L3105.9 727.0 L3108.5 729.9 L3111.2 733.2 L3113.8 736.9 L3116.5 741.1 L3119.1 745.8 L3121.8 751.1 L3124.4 757.0 L3127.1 763.6 L3129.8 770.8 L3132.4 778.5 L3135.1 786.7 L3137.7 795.2 L3140.4 804.2 L3143.0 813.4 L3145.7 822.8 L3148.3 832.3 L3151.0 841.9" fill="none" stroke="#e8ec34" stroke-width="3.2" stroke-linejoin="round"/>
<g fill="#e8ec34"><rect x="2052.0" y="822.2" width="38.8" height="38.8"/><rect x="2105.2" y="700.7" width="38.8" height="38.8"/><rect x="2159.2" y="582.0" width="38.8" height="38.8"/><rect x="2212.0" y="313.0" width="38.8" height="38.8"/><rect x="2266.2" y="124.2" width="38.8" height="38.8"/><rect x="2319.6" y="193.0" width="38.8" height="38.8"/><rect x="2373.0" y="385.0" width="38.8" height="38.8"/><rect x="2426.6" y="568.0" width="38.8" height="38.8"/><rect x="2480.2" y="700.0" width="38.8" height="38.8"/><rect x="2534.3" y="811.1" width="38.8" height="38.8"/><rect x="2649.1" y="811.3" width="38.8" height="38.8"/><rect x="2703.5" y="700.0" width="38.8" height="38.8"/><rect x="2756.6" y="568.0" width="38.8" height="38.8"/><rect x="2810.0" y="385.0" width="38.8" height="38.8"/><rect x="2863.5" y="193.0" width="38.8" height="38.8"/><rect x="2917.0" y="124.2" width="38.8" height="38.8"/><rect x="2971.2" y="313.0" width="38.8" height="38.8"/><rect x="3024.7" y="582.0" width="38.8" height="38.8"/><rect x="3078.5" y="700.7" width="38.8" height="38.8"/><rect x="3131.6" y="822.5" width="38.8" height="38.8"/></g>
<path d="M2071.6 836.3 L2073.9 829.8 L2076.1 823.4 L2078.4 816.9 L2080.7 810.4 L2082.9 803.9 L2085.2 797.4 L2087.5 790.9 L2089.8 784.3 L2092.1 777.5 L2094.5 770.8 L2096.8 764.3 L2099.2 758.1 L2101.5 752.3 L2104.1 746.4 L2106.7 741.2 L2109.3 736.4 L2111.9 732.1 L2114.6 728.3 L2117.2 724.8 L2119.8 721.6 L2122.4 718.6 L2125.0 715.8 L2127.4 713.2 L2129.8 710.8 L2132.2 708.2 L2134.7 705.6 L2137.1 702.7 L2139.5 699.6 L2141.9 696.1 L2144.2 692.3 L2146.6 687.9 L2149.0 682.8 L2151.4 677.1 L2153.7 670.5 L2156.1 663.1 L2158.6 654.3 L2161.0 644.6 L2163.5 634.1 L2165.9 622.9 L2168.4 611.2 L2170.9 599.2 L2173.3 587.0 L2175.8 574.7 L2178.2 562.5 L2181.1 548.8 L2183.9 535.4 L2186.7 522.3 L2189.5 509.5 L2192.3 497.0 L2195.1 484.9 L2198.0 473.2 L2200.8 461.8 L2203.6 450.8 L2206.4 440.2 L2209.2 429.9 L2212.0 420.1 L2214.9 410.7 L2217.7 401.7 L2220.5 393.1 L2223.3 384.9 L2226.1 377.2 L2228.9 370.0 L2231.8 363.2 L2234.6 356.9 L2237.4 351.1 L2240.2 345.7 L2243.1 340.8 L2245.9 336.4 L2248.7 332.5 L2251.6 329.0 L2254.4 325.9 L2257.2 323.3 L2260.0 321.2 L2262.9 319.5 L2265.7 318.2 L2268.5 317.4 L2271.4 317.0 L2274.2 317.0 L2277.0 317.4 L2279.8 318.3 L2282.7 319.6 L2285.5 321.3 L2288.3 323.4 L2291.2 325.9 L2294.0 328.8 L2296.8 332.0 L2299.6 335.6 L2302.5 339.4 L2305.3 343.6 L2308.1 348.1 L2311.0 352.8 L2313.8 357.7 L2316.6 362.9 L2319.4 368.3 L2322.3 373.9 L2325.1 379.7 L2327.9 385.6 L2330.8 391.6 L2333.6 397.8 L2336.4 404.1 L2339.2 410.4 L2342.0 416.7 L2344.8 423.1 L2347.6 429.5 L2350.4 436.0 L2353.2 442.4 L2356.0 448.9 L2358.8 455.5 L2361.6 462.0 L2364.4 468.5 L2367.1 475.0 L2369.9 481.5 L2372.7 488.0 L2375.5 494.4 L2378.3 500.8 L2381.1 507.2 L2383.9 513.5 L2386.7 519.7 L2389.5 525.9 L2392.2 532.0 L2395.0 537.8 L2397.7 543.6 L2400.4 549.2 L2403.1 554.8 L2405.8 560.4 L2408.5 565.8 L2411.2 571.2 L2413.9 576.6 L2416.6 581.8 L2419.3 587.1 L2422.0 592.3 L2424.7 597.4 L2427.4 602.5 L2430.1 607.5 L2432.8 612.5 L2435.5 617.5 L2438.2 622.4 L2440.9 627.3 L2443.6 632.2 L2446.3 637.0 L2449.1 642.0 L2451.9 647.0 L2454.7 651.9 L2457.6 656.9 L2460.4 661.7 L2463.2 666.5 L2466.0 671.2 L2468.8 675.9 L2471.6 680.5 L2474.4 685.0 L2477.2 689.4 L2480.1 693.7 L2482.9 697.9 L2485.7 702.0 L2488.5 706.0 L2491.3 709.8 L2494.1 713.6 L2496.9 717.2 L2499.8 720.6 L2502.4 723.7 L2505.0 726.8 L2507.7 729.9 L2510.3 733.0 L2513.0 736.4 L2515.6 740.0 L2518.3 744.0 L2520.9 748.3 L2523.5 753.1 L2526.2 758.5 L2528.5 763.8 L2530.9 769.4 L2533.2 775.2 L2535.5 781.1 L2537.9 786.9 L2540.2 792.6 L2542.5 797.6 L2544.7 802.4 L2547.0 806.9 L2549.2 811.2 L2551.5 815.3 L2553.7 819.2 L2556.6 824.0 L2559.5 828.5 L2562.4 832.8 L2565.3 836.9 L2568.1 840.7 L2571.0 844.3 L2573.9 847.7 L2576.8 850.7 L2579.7 853.6 L2582.6 856.2 L2585.5 858.6 L2588.4 860.7 L2591.3 862.6 L2594.2 864.2 L2597.1 865.6 L2599.9 866.7 L2602.8 867.6 L2605.7 868.2 L2608.6 868.6 L2611.5 868.8 L2614.4 868.7 L2617.3 868.3 L2620.2 867.7 L2623.1 866.9 L2625.9 865.8 L2628.8 864.5 L2631.7 862.9 L2634.6 861.0 L2637.5 859.0 L2640.4 856.6 L2643.3 854.0 L2646.2 851.2 L2649.1 848.1 L2652.0 844.8 L2654.9 841.2 L2657.7 837.3 L2660.6 833.2 L2663.5 828.9 L2666.4 824.3 L2669.3 819.4 L2671.5 815.5 L2673.7 811.4 L2676.0 807.1 L2678.2 802.6 L2680.4 797.8 L2682.6 792.7 L2684.9 787.1 L2687.2 781.2 L2689.5 775.3 L2691.8 769.5 L2694.1 763.9 L2696.4 758.6 L2699.0 753.2 L2701.6 748.4 L2704.3 744.0 L2706.9 740.0 L2709.5 736.4 L2712.1 733.0 L2714.7 729.8 L2717.3 726.7 L2719.9 723.7 L2722.5 720.6 L2725.3 717.1 L2728.2 713.5 L2731.0 709.8 L2733.8 706.0 L2736.6 702.0 L2739.5 698.0 L2742.3 693.8 L2745.1 689.5 L2748.0 685.2 L2750.8 680.7 L2753.6 676.2 L2756.4 671.6 L2759.3 666.9 L2762.1 662.2 L2764.9 657.3 L2767.8 652.5 L2770.6 647.5 L2773.4 642.5 L2776.2 637.5 L2779.1 632.4 L2781.9 627.3 L2784.7 622.2 L2787.6 617.0 L2790.4 611.7 L2793.2 606.4 L2796.1 601.1 L2798.9 595.6 L2801.7 590.2 L2804.5 584.7 L2807.4 579.1 L2810.2 573.4 L2813.0 567.7 L2815.9 561.9 L2818.7 556.1 L2821.5 550.2 L2824.3 544.2 L2827.2 538.1 L2830.0 532.0 L2832.8 525.8 L2835.6 519.6 L2838.4 513.3 L2841.2 507.0 L2844.0 500.6 L2846.8 494.1 L2849.6 487.7 L2852.4 481.2 L2855.2 474.7 L2858.0 468.1 L2860.8 461.6 L2863.6 455.1 L2866.4 448.5 L2869.2 442.0 L2872.0 435.6 L2874.8 429.1 L2877.6 422.7 L2880.4 416.3 L2883.2 410.0 L2886.1 403.7 L2888.9 397.5 L2891.7 391.3 L2894.6 385.3 L2897.4 379.4 L2900.2 373.7 L2903.1 368.1 L2905.9 362.7 L2908.7 357.6 L2911.5 352.6 L2914.4 347.9 L2917.2 343.5 L2920.0 339.3 L2922.9 335.5 L2925.7 331.9 L2928.5 328.7 L2931.3 325.9 L2934.2 323.4 L2937.0 321.3 L2939.8 319.6 L2942.6 318.3 L2945.4 317.5 L2948.3 317.0 L2951.1 317.0 L2953.9 317.4 L2956.7 318.2 L2959.5 319.5 L2962.3 321.2 L2965.2 323.3 L2968.0 325.8 L2970.8 328.8 L2973.6 332.3 L2976.4 336.2 L2979.2 340.5 L2982.1 345.3 L2984.9 350.6 L2987.7 356.3 L2990.5 362.5 L2993.2 368.9 L2995.9 375.7 L2998.6 382.9 L3001.3 390.6 L3004.0 398.6 L3006.7 407.0 L3009.4 415.8 L3012.1 425.1 L3014.8 434.6 L3017.5 444.6 L3020.2 454.9 L3022.9 465.5 L3025.6 476.5 L3028.3 487.9 L3031.0 499.5 L3033.7 511.5 L3036.4 523.8 L3039.1 536.4 L3041.8 549.3 L3044.5 562.5 L3046.9 574.7 L3049.4 587.0 L3051.8 599.2 L3054.3 611.2 L3056.7 622.9 L3059.2 634.0 L3061.6 644.5 L3064.1 654.3 L3066.5 663.1 L3068.9 670.5 L3071.3 677.1 L3073.6 682.8 L3076.0 687.9 L3078.4 692.3 L3080.7 696.1 L3083.1 699.6 L3085.5 702.7 L3087.9 705.6 L3090.3 708.2 L3092.7 710.8 L3095.1 713.3 L3097.5 715.8 L3100.1 718.6 L3102.8 721.6 L3105.4 724.8 L3108.0 728.3 L3110.6 732.2 L3113.3 736.4 L3115.9 741.2 L3118.5 746.4 L3121.2 752.3 L3123.5 758.1 L3125.9 764.3 L3128.2 770.8 L3130.6 777.5 L3133.0 784.3 L3135.3 790.8 L3137.5 797.4 L3139.8 803.9 L3142.1 810.4 L3144.4 816.8 L3146.7 823.3 L3149.0 829.8 L3151.2 836.2" fill="none" stroke="#64c232" stroke-width="3.2" stroke-linejoin="round"/>
<g fill="#64c232"><path d="M2071.6 805.3L2099.0 852.2L2044.2 852.2z"/><path d="M2125.0 684.7L2152.4 731.7L2097.6 731.7z"/><path d="M2178.2 531.5L2205.7 578.4L2150.8 578.4z"/><path d="M2231.8 332.2L2259.2 379.2L2204.3 379.2z"/><path d="M2285.5 290.3L2312.9 337.2L2258.1 337.2z"/><path d="M2339.2 379.4L2366.7 426.3L2311.8 426.3z"/><path d="M2392.2 501.0L2419.7 547.9L2364.8 547.9z"/><path d="M2446.3 606.0L2473.7 652.9L2418.9 652.9z"/><path d="M2499.8 689.6L2527.2 736.5L2472.3 736.5z"/><path d="M2553.7 788.2L2581.1 835.1L2526.3 835.1z"/><path d="M2669.3 788.4L2696.7 835.3L2641.9 835.3z"/><path d="M2722.5 689.6L2749.9 736.5L2695.1 736.5z"/><path d="M2776.2 606.5L2803.7 653.4L2748.8 653.4z"/><path d="M2830.0 501.0L2857.4 547.9L2802.6 547.9z"/><path d="M2883.2 379.0L2910.7 425.9L2855.8 425.9z"/><path d="M2937.0 290.3L2964.4 337.2L2909.6 337.2z"/><path d="M2990.5 331.5L3017.9 378.4L2963.1 378.4z"/><path d="M3044.5 531.5L3071.9 578.4L3017.1 578.4z"/><path d="M3097.5 684.7L3124.9 731.7L3070.1 731.7z"/><path d="M3151.2 805.2L3178.7 852.2L3123.8 852.2z"/></g>
<path d="M2071.2 842.3 L2073.7 834.0 L2076.1 825.8 L2078.6 817.9 L2081.1 810.4 L2083.5 803.4 L2086.0 797.1 L2088.2 792.2 L2090.4 787.9 L2092.6 784.0 L2094.8 780.7 L2096.9 777.7 L2099.1 775.0 L2101.3 772.6 L2104.0 770.0 L2106.6 767.6 L2109.2 765.4 L2111.8 763.2 L2114.5 761.0 L2117.1 758.8 L2119.7 756.4 L2122.4 753.7 L2125.0 750.8 L2127.4 747.7 L2129.8 744.4 L2132.2 740.8 L2134.6 736.9 L2137.0 732.8 L2139.4 728.4 L2141.9 723.8 L2144.3 719.0 L2146.7 714.1 L2149.1 708.9 L2151.8 703.0 L2154.4 697.0 L2157.1 690.8 L2159.8 684.4 L2162.4 677.8 L2165.1 671.1 L2167.8 664.3 L2170.5 657.3 L2173.2 650.2 L2175.8 642.9 L2178.5 635.6 L2181.3 627.8 L2184.1 619.9 L2186.9 612.0 L2189.7 603.9 L2192.5 595.9 L2195.3 587.9 L2198.1 579.9 L2200.9 572.0 L2203.7 564.1 L2206.5 556.3 L2209.3 548.6 L2212.1 541.1 L2214.9 533.8 L2217.7 526.6 L2220.5 519.7 L2223.3 513.0 L2226.1 506.5 L2228.9 500.4 L2231.8 494.5 L2234.4 489.2 L2237.2 484.2 L2239.8 479.5 L2242.6 475.1 L2245.2 471.0 L2247.9 467.3 L2250.7 463.9 L2253.3 460.8 L2256.1 458.1 L2258.8 455.7 L2261.4 453.7 L2264.2 452.1 L2266.8 450.8 L2269.6 449.8 L2272.2 449.2 L2274.9 449.0 L2277.7 449.2 L2280.3 449.7 L2283.1 450.7 L2285.8 452.0 L2288.6 453.8 L2291.4 456.0 L2294.2 458.6 L2297.0 461.5 L2299.8 464.8 L2302.6 468.5 L2305.5 472.4 L2308.3 476.7 L2311.1 481.2 L2313.9 485.9 L2316.7 490.9 L2319.5 496.1 L2322.4 501.5 L2325.2 507.1 L2328.0 512.8 L2330.8 518.6 L2333.6 524.6 L2336.4 530.6 L2339.2 536.8 L2342.1 542.9 L2344.9 549.1 L2347.7 555.3 L2350.5 561.6 L2353.3 567.9 L2356.1 574.2 L2358.9 580.6 L2361.7 586.9 L2364.5 593.2 L2367.3 599.5 L2370.1 605.8 L2372.9 612.1 L2375.7 618.3 L2378.5 624.5 L2381.3 630.6 L2384.1 636.7 L2386.9 642.7 L2389.7 648.6 L2392.5 654.5 L2395.3 660.3 L2398.1 666.0 L2400.9 671.6 L2403.7 677.1 L2406.5 682.5 L2409.3 687.9 L2412.1 693.2 L2414.9 698.4 L2417.7 703.5 L2420.5 708.5 L2423.3 713.5 L2426.1 718.3 L2428.9 723.1 L2431.7 727.8 L2434.5 732.5 L2437.3 737.0 L2440.1 741.5 L2442.9 745.9 L2445.8 750.2 L2448.6 754.6 L2451.4 758.8 L2454.3 762.9 L2457.1 767.0 L2459.9 771.0 L2462.8 774.8 L2465.6 778.6 L2468.5 782.3 L2471.3 785.9 L2474.1 789.4 L2477.0 792.8 L2479.8 796.1 L2482.7 799.2 L2485.5 802.3 L2488.3 805.2 L2491.2 808.0 L2494.0 810.7 L2496.9 813.3 L2499.7 815.7 L2502.5 818.0 L2505.4 820.2 L2508.2 822.2 L2511.0 824.2 L2513.9 826.0 L2516.7 827.8 L2519.5 829.4 L2522.4 831.0 L2525.2 832.5 L2528.0 833.9 L2530.8 835.2 L2533.7 836.5 L2536.5 837.8 L2539.3 838.9 L2542.2 840.1 L2545.0 841.2 L2547.8 842.3 L2550.7 843.4 L2553.5 844.4 L2556.4 845.5 L2559.3 846.5 L2562.2 847.5 L2565.1 848.5 L2568.0 849.5 L2570.9 850.5 L2573.8 851.4 L2576.7 852.3 L2579.6 853.1 L2582.5 853.9 L2585.4 854.6 L2588.3 855.3 L2591.2 855.9 L2594.1 856.5 L2597.0 857.0 L2599.9 857.4 L2602.8 857.7 L2605.7 858.0 L2608.6 858.1 L2611.5 858.2 L2614.4 858.2 L2617.3 858.1 L2620.2 857.8 L2623.1 857.5 L2626.0 857.1 L2628.9 856.5 L2631.8 855.9 L2634.7 855.1 L2637.6 854.1 L2640.5 853.1 L2643.4 851.9 L2646.3 850.6 L2649.2 849.1 L2652.1 847.4 L2655.0 845.7 L2657.9 843.7 L2660.8 841.6 L2663.7 839.4 L2666.6 836.9 L2669.5 834.3 L2672.3 831.6 L2675.1 828.8 L2677.9 825.8 L2680.7 822.7 L2683.5 819.4 L2686.3 816.1 L2689.1 812.6 L2691.9 809.1 L2694.7 805.5 L2697.4 801.8 L2700.2 798.0 L2703.0 794.2 L2705.8 790.4 L2708.6 786.6 L2711.4 782.7 L2714.2 778.9 L2717.0 775.0 L2719.8 771.2 L2722.6 767.4 L2725.4 763.6 L2728.2 759.9 L2731.1 756.1 L2733.9 752.4 L2736.7 748.7 L2739.5 745.0 L2742.4 741.3 L2745.2 737.6 L2748.0 733.9 L2750.8 730.1 L2753.7 726.3 L2756.5 722.4 L2759.3 718.5 L2762.1 714.5 L2765.0 710.4 L2767.8 706.3 L2770.6 702.0 L2773.4 697.7 L2776.2 693.2 L2779.1 688.7 L2781.9 684.1 L2784.7 679.3 L2787.5 674.4 L2790.3 669.5 L2793.1 664.4 L2795.9 659.3 L2798.7 654.0 L2801.5 648.7 L2804.3 643.3 L2807.1 637.7 L2809.9 632.2 L2812.7 626.5 L2815.5 620.8 L2818.3 615.0 L2821.1 609.1 L2823.9 603.2 L2826.7 597.3 L2829.5 591.2 L2832.3 585.2 L2835.1 579.0 L2837.9 572.9 L2840.8 566.7 L2843.6 560.5 L2846.4 554.3 L2849.2 548.1 L2852.0 541.9 L2854.8 535.8 L2857.7 529.7 L2860.5 523.6 L2863.3 517.6 L2866.1 511.7 L2868.9 505.8 L2871.7 500.1 L2874.6 494.4 L2877.4 488.8 L2880.2 483.3 L2883.0 478.0 L2885.7 473.0 L2888.4 468.2 L2891.1 463.5 L2893.8 458.9 L2896.5 454.6 L2899.2 450.4 L2901.9 446.5 L2904.6 442.8 L2907.3 439.4 L2910.0 436.2 L2912.7 433.3 L2915.4 430.7 L2918.1 428.4 L2920.8 426.5 L2923.5 424.9 L2926.2 423.6 L2928.9 422.7 L2931.6 422.2 L2934.3 422.2 L2937.0 422.5 L2939.8 423.3 L2942.7 424.6 L2945.5 426.4 L2948.3 428.5 L2951.1 431.1 L2954.0 434.2 L2956.8 437.5 L2959.6 441.3 L2962.5 445.5 L2965.3 449.9 L2968.1 454.7 L2970.9 459.9 L2973.8 465.3 L2976.6 471.0 L2979.4 477.0 L2982.3 483.2 L2985.1 489.7 L2987.9 496.4 L2990.8 503.2 L2993.6 510.3 L2996.4 517.5 L2999.2 524.9 L3002.0 532.4 L3004.8 540.1 L3007.6 547.8 L3010.5 555.6 L3013.3 563.4 L3016.1 571.3 L3018.9 579.2 L3021.7 587.2 L3024.5 595.1 L3027.4 602.9 L3030.2 610.7 L3033.0 618.4 L3035.8 626.1 L3038.6 633.6 L3041.4 641.0 L3044.2 648.2 L3046.9 654.9 L3049.6 661.4 L3052.2 667.7 L3054.9 673.8 L3057.5 679.8 L3060.2 685.6 L3062.8 691.3 L3065.5 696.7 L3068.1 701.9 L3070.8 706.9 L3073.4 711.7 L3076.1 716.3 L3078.7 720.7 L3081.4 724.8 L3084.0 728.8 L3086.7 732.5 L3089.3 736.1 L3092.0 739.4 L3094.6 742.6 L3097.3 745.5 L3099.9 748.3 L3102.6 750.9 L3105.2 753.4 L3107.9 755.8 L3110.5 758.3 L3113.1 760.8 L3115.8 763.4 L3118.4 766.1 L3121.1 769.0 L3123.3 771.6 L3125.5 774.5 L3127.7 777.6 L3129.9 781.1 L3132.1 785.1 L3134.3 789.5 L3136.5 794.6 L3138.9 801.0 L3141.4 808.2 L3143.9 815.8 L3146.4 823.9 L3148.8 832.3 L3151.3 840.8" fill="none" stroke="#eb2227" stroke-width="3.2" stroke-linejoin="round"/>
<g fill="#eb2227"><circle cx="2071.2" cy="842.3" r="22.0"/><circle cx="2125.0" cy="750.8" r="22.0"/><circle cx="2178.5" cy="635.6" r="22.0"/><circle cx="2231.8" cy="494.5" r="22.0"/><circle cx="2285.8" cy="452.0" r="22.0"/><circle cx="2339.2" cy="536.8" r="22.0"/><circle cx="2392.5" cy="654.5" r="22.0"/><circle cx="2445.8" cy="750.2" r="22.0"/><circle cx="2499.7" cy="815.7" r="22.0"/><circle cx="2553.5" cy="844.4" r="22.0"/><circle cx="2669.5" cy="834.3" r="22.0"/><circle cx="2722.6" cy="767.4" r="22.0"/><circle cx="2776.2" cy="693.2" r="22.0"/><circle cx="2829.5" cy="591.2" r="22.0"/><circle cx="2883.0" cy="478.0" r="22.0"/><circle cx="2937.0" cy="422.5" r="22.0"/><circle cx="2990.8" cy="503.2" r="22.0"/><circle cx="3044.2" cy="648.2" r="22.0"/><circle cx="3097.3" cy="745.5" r="22.0"/><circle cx="3151.3" cy="840.8" r="22.0"/></g>
<rect x="2015.5" y="2.5" width="1192.7" height="883.0" fill="none" stroke="#231f20" stroke-width="3.0"/>
<path d="M2052.5 887.7V866.7M2052.5 0.4v4.2M2238.7 887.7V866.7M2238.7 0.4v4.2M2424.8 887.7V866.7M2424.8 0.4v4.2M2611.0 887.7V866.7M2611.0 0.4v4.2M2797.2 887.7V866.7M2797.2 0.4v4.2M2983.3 887.7V866.7M2983.3 0.4v4.2M3169.5 887.7V866.7M3169.5 0.4v4.2M2014.0 845.5H2034.7M2014.0 711.6H2034.7M2014.0 577.8H2034.7M2014.0 444.0H2034.7M2014.0 310.1H2034.7M2014.0 176.3H2034.7M2014.0 42.5H2034.7" stroke="#231f20" stroke-width="3.0" fill="none"/>
<path d="M3205.8 845.5h2M3205.8 711.6h2M3205.8 577.8h2M3205.8 444.0h2M3205.8 310.1h2M3205.8 176.3h2M3205.8 42.5h2" stroke="#231f20" stroke-width="1.6" fill="none" opacity=".7"/>
<rect x="2566.6" y="658.4" width="90.9" height="227.1" fill="#8fdad8" stroke="#231f20" stroke-width="3.1"/>
<text x="2610.2" y="704.8" font-size="41.7" text-anchor="middle" >SEN</text>
<text x="2121.5" y="947.0" font-size="55.6" text-anchor="end" >−0.75</text>
<text x="2307.7" y="947.0" font-size="55.6" text-anchor="end" >−0.50</text>
<text x="2493.8" y="947.0" font-size="55.6" text-anchor="end" >−0.25</text>
<text x="2611.4" y="947.0" font-size="55.6" text-anchor="middle" >0</text>
<text x="2797.6" y="947.0" font-size="55.6" text-anchor="middle" >0.25</text>
<text x="2983.7" y="947.0" font-size="55.6" text-anchor="middle" >0.50</text>
<text x="3169.9" y="947.0" font-size="55.6" text-anchor="middle" >0.75</text>
<text x="1996.5" y="860.1" font-size="55.6" text-anchor="end" >0</text>
<text x="1996.5" y="726.2" font-size="55.6" text-anchor="end" >0.005</text>
<text x="1996.5" y="592.4" font-size="55.6" text-anchor="end" >0.010</text>
<text x="1996.5" y="458.6" font-size="55.6" text-anchor="end" >0.015</text>
<text x="1996.5" y="324.7" font-size="55.6" text-anchor="end" >0.020</text>
<text x="1996.5" y="190.9" font-size="55.6" text-anchor="end" >0.025</text>
<text x="1996.5" y="57.1" font-size="55.6" text-anchor="end" >0.030</text>
<text x="2610.3" y="1038.9" font-size="55.6" text-anchor="middle" >Mold width/m</text>
<text transform="translate(1828.0 808.5) rotate(-90)" font-size="55.35">Turbulent kinetic energy/(m<tspan dy="-18" font-size="32">2</tspan><tspan dy="22.6">·</tspan><tspan dy="-4.6">s</tspan><tspan dy="-18" font-size="32">−2</tspan><tspan dy="18">)</tspan></text>
<text x="2045.6" y="51.1" font-size="55.6" text-anchor="start" >(b)</text>
<path d="M2334.2 39.4H2442.0" stroke="#e8ec34" stroke-width="2.8" fill="none"/>
<g fill="#e8ec34"><rect x="2368.4" y="20.0" width="38.8" height="38.8"/></g>
<text x="2453.5" y="55.3" font-size="55.6" text-anchor="start" >No-EMBr</text>
<path d="M2334.2 95.9H2442.0" stroke="#64c232" stroke-width="2.8" fill="none"/>
<g fill="#64c232"><path d="M2387.8 64.9L2415.2 111.8L2360.4 111.8z"/></g>
<text x="2453.5" y="111.9" font-size="55.6" text-anchor="start" >Ruler-EMBr</text>
<path d="M2334.2 154.5H2442.0" stroke="#eb2227" stroke-width="2.8" fill="none"/>
<g fill="#eb2227"><circle cx="2387.8" cy="154.5" r="22.0"/></g>
<text x="2453.5" y="169.6" font-size="55.6" text-anchor="start" >VTW-magnetic field</text>
</g>
</g>
</svg>
</body></html>
